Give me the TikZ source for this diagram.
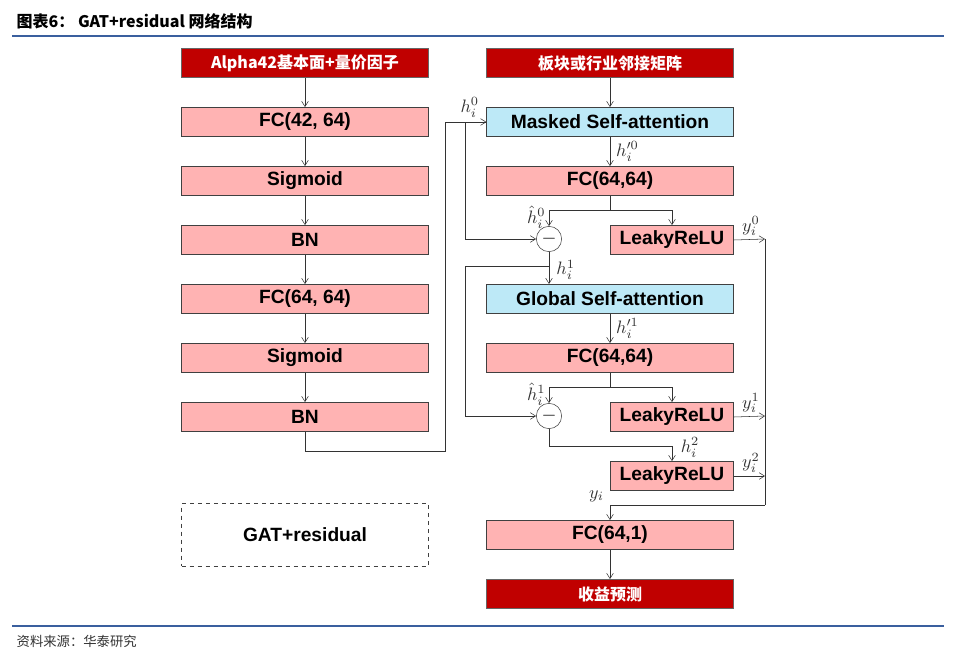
\documentclass[tikz,border=0pt]{standalone}
\usepackage{fontspec}
\setmainfont{Liberation Sans}
\newfontfamily\cjk{Noto Sans CJK SC}
\usetikzlibrary{arrows.meta,positioning}
\definecolor{boxpink}{HTML}{FFB3B3}
\definecolor{boxred}{HTML}{C00000}
\definecolor{boxblue}{HTML}{BDE9F7}
\definecolor{rulblue}{HTML}{3A5F9E}

\begin{document}
\begin{tikzpicture}[x=0.75pt, y=-0.75pt,
    blk/.style = {draw=black!75, fill=boxpink, minimum width=185pt, minimum height=22pt, inner sep=0pt, font=\bfseries\Large},
    att/.style = {blk, fill=boxblue},
    top/.style = {blk, fill=boxred, draw=black!60, text=white},
    half/.style = {blk, minimum width=92pt},
    sub/.style = {circle, draw=black!75, minimum size=19pt, inner sep=0pt, font=\Large},
    arr/.style = {-{Straight Barb[length=4pt,width=5pt]}, black!80},
    ln/.style = {black!80},
    lab/.style = {scale=1.35, inner sep=1pt}]
    \useasboundingbox (0,0) rectangle (961,657);

    % header and footer
    \node[anchor=west, font=\cjk\bfseries\large] (title) at (12,21) {图表6：\ \textbf{GAT+residual} 网络结构};
    \draw[rulblue, thick] (12,36) -- (944,36);
    \draw[rulblue, thick] (12,626) -- (944,626);
    \node[anchor=west, font=\cjk, text=black!80] (src) at (12,641) {资料来源：华泰研究};

    % left column
    \node[top, font=\cjk\bfseries\large] (inp) at (305,63) {\textbf{Alpha42}基本面+量价因子};
    \node[blk] (fc1) at (305,122) {FC(42, 64)};
    \node[blk] (sg1) at (305,181) {Sigmoid};
    \node[blk] (bn1) at (305,240) {BN};
    \node[blk] (fc2) at (305,299) {FC(64, 64)};
    \node[blk] (sg2) at (305,358) {Sigmoid};
    \node[blk] (bn2) at (305,417) {BN};
    \foreach \a/\b in {inp/fc1, fc1/sg1, sg1/bn1, bn1/fc2, fc2/sg2, sg2/bn2}
        \draw[arr] (\a) -- (\b);

    \node[blk, fill=none, dashed, minimum height=47pt] (leg) at (305,535) {GAT+residual};

    % right column
    \node[top, font=\cjk\bfseries\large] (adj) at (610,63) {板块或行业邻接矩阵};
    \node[att] (msa) at (610,122) {Masked Self-attention};
    \node[blk] (fc3) at (610,181) {FC(64,64)};
    \node[sub] (m1) at (549,239) {$-$};
    \node[half] (lr1) at (672,240) {LeakyReLU};
    \node[att] (gsa) at (610,299) {Global Self-attention};
    \node[blk] (fc4) at (610,358) {FC(64,64)};
    \node[sub] (m2) at (549,416) {$-$};
    \node[half] (lr2) at (672,417) {LeakyReLU};
    \node[half] (lr3) at (672,476) {LeakyReLU};
    \node[blk] (fc5) at (610,535) {FC(64,1)};
    \node[top, font=\cjk\bfseries\large] (out) at (610,594) {收益预测};

    \coordinate (bus) at (765,239);
    \coordinate (join) at (765,505);

    % residual path
    \draw[arr] (bn2.south) |- (445,451) |- (msa.west) node[lab, pos=0.8, above=2pt] {$h_i^0$};
    \draw[arr] (465,122) |- (m1.west);
    \draw[arr] (adj) -- (msa);
    \draw[arr] (msa) -- (fc3) node[lab, midway, right=3pt] {$h'^0_i$};
    \draw[ln] (fc3.south) -- (610,210);
    \draw[arr] (549,210) -- (m1.north) node[lab, pos=0.45, left=1pt] {$\hat h_i^0$};
    \draw[arr] (549,210) -| (lr1.north);
    \draw[arr] (m1.south) -- (549,284) node[lab, pos=0.55, right=4pt] {$h_i^1$};
    \draw[arr] (549,266) -| (465,266) |- (m2.west);
    \draw[arr] (gsa) -- (fc4) node[lab, midway, right=3pt] {$h'^1_i$};
    \draw[ln] (fc4.south) -- (610,387);
    \draw[arr] (549,387) -- (m2.north) node[lab, pos=0.45, left=1pt] {$\hat h_i^1$};
    \draw[arr] (549,387) -| (lr2.north);
    \draw[arr] (m2.south) |- (672,446) -- (lr3.north) node[lab, pos=0.1, right=5pt] {$h_i^2$};

    % outputs
    \draw[arr] (lr1.east) -- (bus) node[lab, pos=0.55, above=1pt] {$y_i^0$};
    \draw[arr] (lr2.east) -- (765,416) node[lab, pos=0.55, above=1pt] {$y_i^1$};
    \draw[arr] (lr3.east) -- (765,476) node[lab, pos=0.55, above=1pt] {$y_i^2$};
    \draw[ln] (bus) -- (join);
    \draw[arr] (join) -| (fc5.north) node[lab, pos=0.5, above left=1pt and 3pt] {$y_i$};
    \draw[arr] (fc5) -- (out);
\end{tikzpicture}
\end{document}
